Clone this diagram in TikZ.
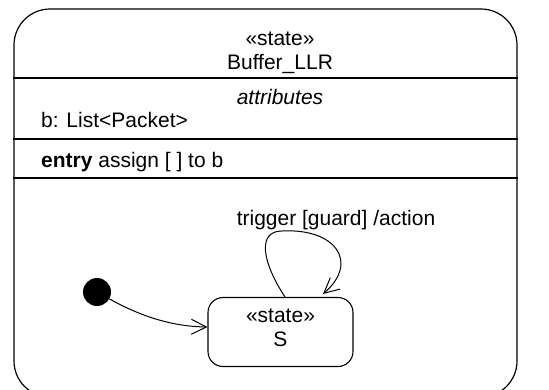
\documentclass[tikz,border=0pt]{standalone}
\usepackage{fontspec}
\setmainfont{Liberation Sans}
\usetikzlibrary{arrows.meta}

\begin{document}
\begin{tikzpicture}[x=1pt, y=-1pt]
	\tikzstyle{Outer}   = [draw, line width=1.2pt, rounded corners=36pt, minimum width=503pt, minimum height=388pt, inner sep=0pt]
	\tikzstyle{Sep}     = [line width=1.2pt]
	\tikzstyle{Text}    = [inner sep=0pt, font=\fontsize{21}{25}\selectfont]
	\tikzstyle{State}   = [draw, line width=1.1pt, rounded corners=15pt, minimum width=145pt, minimum height=69pt, inner sep=0pt, align=center, text depth=9pt, font=\fontsize{21}{24}\selectfont]
	\tikzstyle{Initial} = [circle, fill=black, minimum size=28pt, inner sep=0pt]
	\tikzstyle{Trans}   = [line width=1pt, line cap=round, -{Straight Barb[length=15pt, width=15pt]}]

	\useasboundingbox (0,0) rectangle (549,389);
	\clip (0,0) rectangle (549,389);

	% composite state and its compartments
	\node (buffer) at (265.5,203) [Outer] {};
	\coordinate (s1) at (0,78);
	\coordinate (s2) at (0,139);
	\coordinate (s3) at (0,178);
	\draw [Sep] (buffer.west |- s1) -- (buffer.east |- s1);
	\draw [Sep] (buffer.west |- s2) -- (buffer.east |- s2);
	\draw [Sep] (buffer.west |- s3) -- (buffer.east |- s3);

	\node (stereo) at (280,45) [Text][anchor=base] {«state»};
	\node (name) at (280,69) [Text][anchor=base] {Buffer\_LLR};
	\node (attrs) at (280,104) [Text][anchor=base] {\itshape attributes};
	\node (attrb) at (41,127) [Text][anchor=base west] {b: List<Packet>};
	\node (entry) at (41,167) [Text][anchor=base west] {\textbf{entry} assign [ ] to b};

	% inner region
	\node (S) at (280.5,332) [State] {«state»\\S};
	\node (init) at (97,292) [Initial] {};
	\node (trig) at (336,225) [Text][anchor=base] {trigger [guard] /action};

	\draw [Trans] (init) .. controls (142,317) and (173,326.5) .. ([yshift=5pt]S.west);
	\coordinate (top) at (282,231);
	\draw [Trans] ([xshift=4.5pt]S.north) .. controls (262,262) and (257,231) .. (top)
		.. controls (335,228) and (360,262) .. ([xshift=42.5pt,yshift=3pt]S.north);
\end{tikzpicture}
\end{document}
